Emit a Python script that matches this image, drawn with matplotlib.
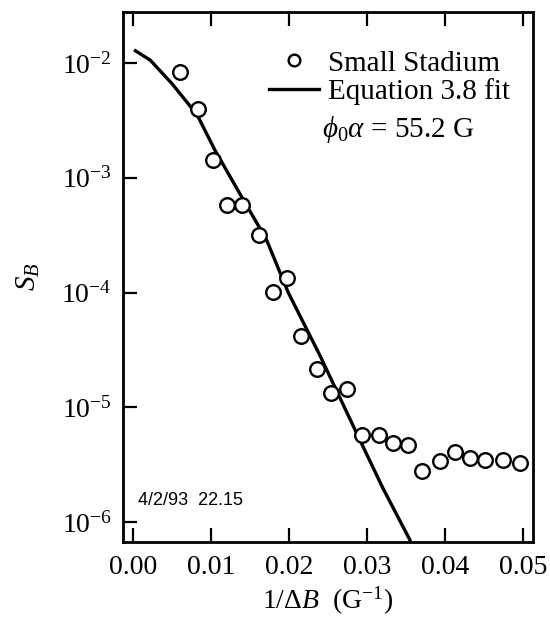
import matplotlib
matplotlib.use('Agg')
import matplotlib.pyplot as plt
import numpy as np

# measured points (Small Stadium)
inv_dB = [0.0060, 0.0083, 0.0102, 0.0121, 0.0140, 0.0162, 0.0180, 0.0198,
          0.0215, 0.0236, 0.0254, 0.0274, 0.0293, 0.0315, 0.0334, 0.0353,
          0.0371, 0.0394, 0.0413, 0.0432, 0.0451, 0.0475, 0.0496]
S_B = [8.4e-3, 4.0e-3, 1.43e-3, 5.8e-4, 5.8e-4, 3.2e-4, 1.02e-4, 1.35e-4,
       4.2e-5, 2.16e-5, 1.34e-5, 1.44e-5, 5.7e-6, 5.7e-6, 4.9e-6, 4.7e-6,
       2.8e-6, 3.4e-6, 4.1e-6, 3.6e-6, 3.45e-6, 3.45e-6, 3.3e-6]

# Equation 3.8 fit curve
fit_x = [0.0003, 0.0022, 0.0050, 0.0082, 0.0105, 0.0141, 0.0171, 0.0199,
         0.0240, 0.0287, 0.0320, 0.0355]
fit_y = [1.28e-2, 1.06e-2, 6.6e-3, 3.55e-3, 1.74e-3, 6.5e-4, 2.9e-4, 1.0e-4,
         2.8e-5, 5.9e-6, 2.0e-6, 7.0e-7]

xticks = [0.00, 0.01, 0.02, 0.03, 0.04, 0.05]
xtick_labels = ['0.00', '0.01', '0.02', '0.03', '0.04', '0.05']
yticks = [1e-2, 1e-3, 1e-4, 1e-5, 1e-6]

plt.rcParams.update({
    'font.family': 'Liberation Serif',
    'mathtext.fontset': 'custom',
    'mathtext.rm': 'Liberation Serif',
    'mathtext.it': 'Liberation Serif:italic',
})

fig = plt.figure(figsize=(5.5, 6.22), dpi=100)
ax = fig.add_axes([0.2236, 0.1286, 0.7455, 0.8521])

ax.plot(inv_dB, S_B, 'o', mfc='white', mec='black', ms=10.5, mew=1.7,
        label='Small Stadium', zorder=3)
ax.plot(fit_x, fit_y, '-', color='black', lw=2.4, label='Equation 3.8 fit')

ax.set_yscale('log')
ax.set_xlim(-0.0013, 0.0513)
ax.set_ylim(10 ** -6.174, 10 ** -1.555)
ax.set_xticks(xticks)
ax.set_xticklabels(xtick_labels)
ax.set_yticks(yticks)
ax.yaxis.set_minor_locator(matplotlib.ticker.NullLocator())
ax.set_yticklabels([r'10$^{\mathregular{-%d}}$' % k for k in range(2, 7)])

ax.tick_params(axis='both', which='major', direction='in', length=10,
               width=1.6, labelsize=20)
ax.tick_params(axis='x', top=True, pad=9)
ax.tick_params(axis='y', right=False, pad=8)
for sp in ax.spines.values():
    sp.set_linewidth(2.0)

ax.set_xlabel(r'1/$\mathit{ΔB}$  (G$^{\mathregular{-1}}$)', fontsize=20,
              labelpad=4)
ax.set_ylabel(r'$\mathit{S_B}$', fontsize=21, labelpad=14)

leg = ax.legend(loc='upper right', bbox_to_anchor=(1.0, 0.972), frameon=False,
                fontsize=21, handlelength=1.7, handletextpad=0.3,
                labelspacing=0.05, borderaxespad=0.4, markerscale=0.8)
ax.text(0.485, 0.778, r'$\mathit{ϕ_0α}$ = 55.2 G', transform=ax.transAxes,
        fontsize=21, va='center', ha='left')
ax.text(0.037, 0.079, '4/2/93  22.15', transform=ax.transAxes,
        fontsize=13, family='Liberation Sans', va='center', ha='left')

fig.savefig('out.png', dpi=100, facecolor='white')
